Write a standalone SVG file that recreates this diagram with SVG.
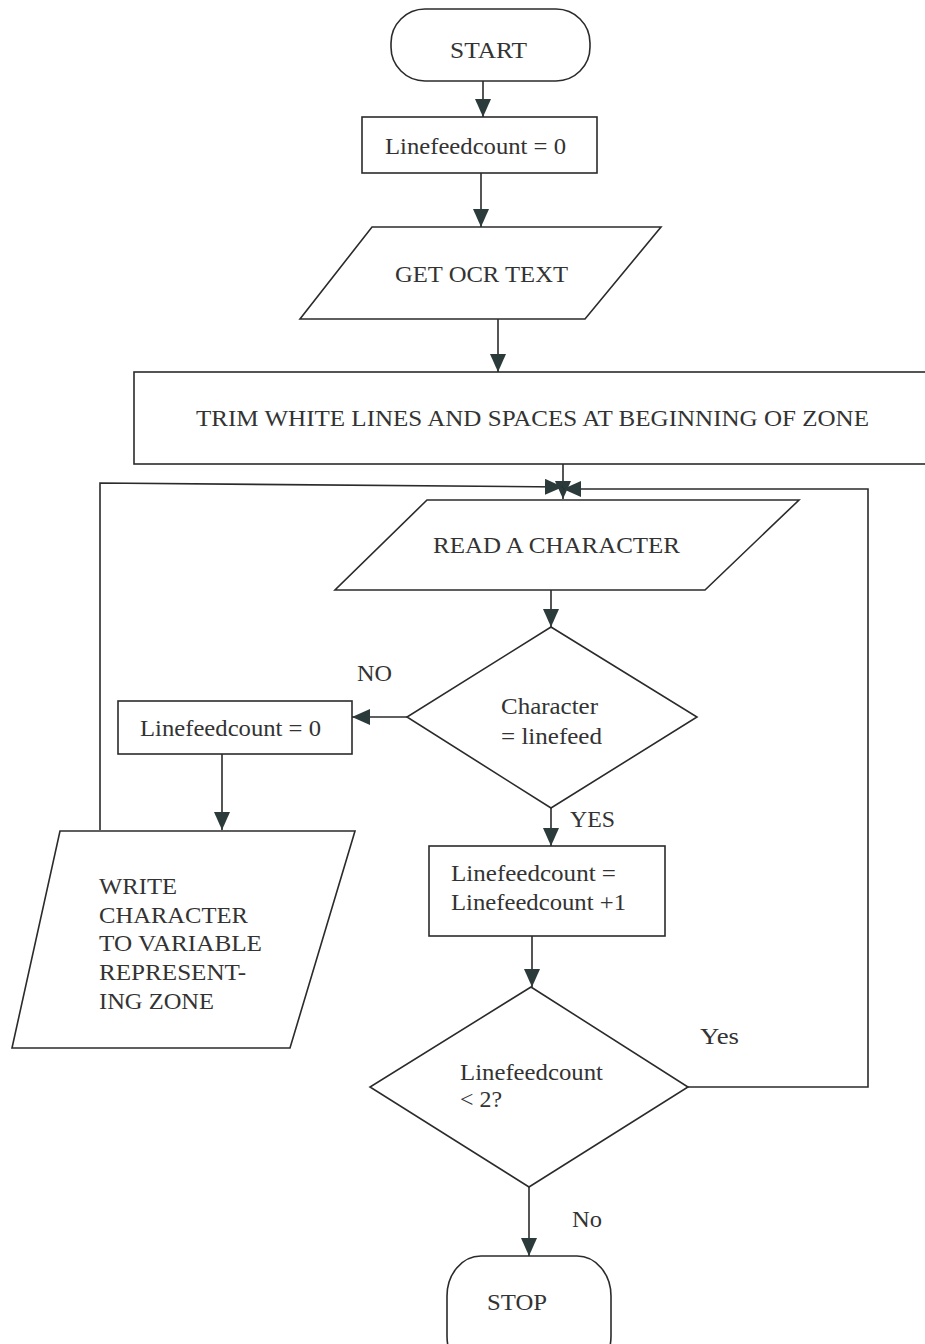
<svg xmlns="http://www.w3.org/2000/svg" width="925" height="1344" viewBox="0 0 925 1344">
<defs>
<style>
.s{fill:#fff;stroke:#2b2b2b;stroke-width:1.6}
.c{fill:none;stroke:#2b2b2b;stroke-width:1.6}
text{font-family:"Liberation Serif","Times New Roman",serif;font-size:23px;fill:#333}
.m{text-anchor:middle}
</style>
<marker id="ah" markerUnits="userSpaceOnUse" markerWidth="20" markerHeight="20" refX="18" refY="8" orient="auto">
<path d="M0,0 L18,8 L0,16 Z" fill="#2b3a3a"/>
</marker>
</defs>
<rect width="925" height="1344" fill="#fff"/>
<g id="connectors">
<line class="c" x1="483" y1="81" x2="483" y2="117" marker-end="url(#ah)"/>
<line class="c" x1="481" y1="173" x2="481" y2="227" marker-end="url(#ah)"/>
<line class="c" x1="498" y1="319" x2="498" y2="372" marker-end="url(#ah)"/>
<line class="c" x1="563" y1="464" x2="563" y2="499" marker-end="url(#ah)"/>
<polyline class="c" points="100,830 100,483 563,487" marker-end="url(#ah)"/>
<polyline class="c" points="688,1087 868,1087 868,489 563,489" marker-end="url(#ah)"/>
<line class="c" x1="551" y1="590" x2="551" y2="627" marker-end="url(#ah)"/>
<line class="c" x1="407" y1="717" x2="352" y2="717" marker-end="url(#ah)"/>
<line class="c" x1="222" y1="754" x2="222" y2="830" marker-end="url(#ah)"/>
<line class="c" x1="551" y1="808" x2="551" y2="846" marker-end="url(#ah)"/>
<line class="c" x1="532" y1="936" x2="532" y2="987" marker-end="url(#ah)"/>
<line class="c" x1="529" y1="1187" x2="529" y2="1256" marker-end="url(#ah)"/>
<text x="357" y="681" textLength="35" lengthAdjust="spacingAndGlyphs">NO</text>
<text x="570" y="827" textLength="45" lengthAdjust="spacingAndGlyphs">YES</text>
<text x="700" y="1044" textLength="39" lengthAdjust="spacingAndGlyphs">Yes</text>
<text x="572" y="1227" textLength="30" lengthAdjust="spacingAndGlyphs">No</text>
</g>
<g id="start">
<rect class="s" x="391" y="9" width="199" height="72" rx="34" ry="34"/>
<text x="450" y="58" textLength="77" lengthAdjust="spacingAndGlyphs">START</text>
</g>
<g id="init">
<rect class="s" x="362" y="117" width="235" height="56"/>
<text x="385" y="154" textLength="181" lengthAdjust="spacingAndGlyphs">Linefeedcount = 0</text>
</g>
<g id="getocr">
<polygon class="s" points="372,227 661,227 585,319 300,319"/>
<text x="395" y="282" textLength="173" lengthAdjust="spacingAndGlyphs">GET OCR TEXT</text>
</g>
<g id="trim">
<rect class="s" x="134" y="372" width="800" height="92"/>
<text x="196" y="426" textLength="673" lengthAdjust="spacingAndGlyphs">TRIM WHITE LINES AND SPACES AT BEGINNING OF ZONE</text>
</g>
<g id="read">
<polygon class="s" points="427,500 799,500 705,590 335,590"/>
<text x="433" y="553" textLength="247" lengthAdjust="spacingAndGlyphs">READ A CHARACTER</text>
</g>
<g id="decision1">
<polygon class="s" points="551,627 697,717 551,808 407,717"/>
<text x="501" y="714" textLength="97" lengthAdjust="spacingAndGlyphs">Character</text>
<text x="501" y="744" textLength="101" lengthAdjust="spacingAndGlyphs">= linefeed</text>
</g>
<g id="reset">
<rect class="s" x="118" y="701" width="234" height="53"/>
<text x="140" y="736" textLength="181" lengthAdjust="spacingAndGlyphs">Linefeedcount = 0</text>
</g>
<g id="write">
<polygon class="s" points="60,831 355,831 290,1048 12,1048"/>
<text x="99" y="894" textLength="78" lengthAdjust="spacingAndGlyphs">WRITE</text>
<text x="99" y="923" textLength="149" lengthAdjust="spacingAndGlyphs">CHARACTER</text>
<text x="99" y="951" textLength="163" lengthAdjust="spacingAndGlyphs">TO VARIABLE</text>
<text x="99" y="980" textLength="147" lengthAdjust="spacingAndGlyphs">REPRESENT-</text>
<text x="99" y="1009" textLength="115" lengthAdjust="spacingAndGlyphs">ING ZONE</text>
</g>
<g id="increment">
<rect class="s" x="429" y="846" width="236" height="90"/>
<text x="451" y="881" textLength="165" lengthAdjust="spacingAndGlyphs">Linefeedcount =</text>
<text x="451" y="910" textLength="175" lengthAdjust="spacingAndGlyphs">Linefeedcount +1</text>
</g>
<g id="decision2">
<polygon class="s" points="531,987 688,1087 529,1187 370,1087"/>
<text x="460" y="1080" textLength="143" lengthAdjust="spacingAndGlyphs">Linefeedcount</text>
<text x="460" y="1107" textLength="42" lengthAdjust="spacingAndGlyphs">&lt; 2?</text>
</g>
<g id="stop">
<rect class="s" x="447" y="1256" width="164" height="120" rx="34" ry="40"/>
<text x="487" y="1310" textLength="60" lengthAdjust="spacingAndGlyphs">STOP</text>
</g>
</svg>
